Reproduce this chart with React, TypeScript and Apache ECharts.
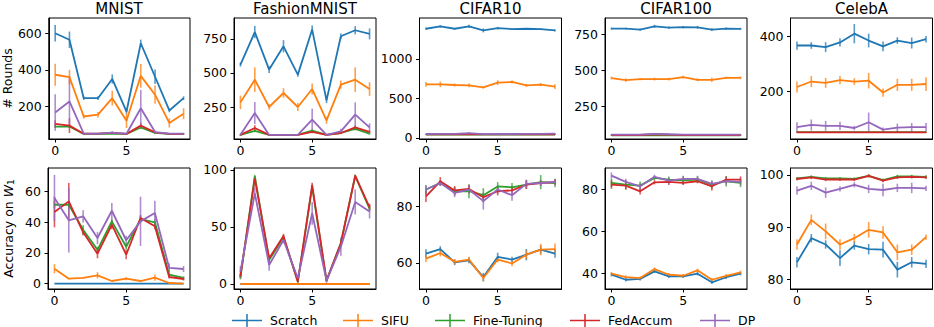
import React, { useEffect, useRef } from "react";
import * as echarts from "echarts";

const seriesNames = ["Scratch", "SIFU", "Fine-Tuning", "FedAccum", "DP"];
const seriesColors = ["#1f77b4", "#ff7f0e", "#2ca02c", "#d62728", "#9467bd"];
const datasetTitles = ["MNIST", "FashionMNIST", "CIFAR10", "CIFAR100", "CelebA"];
const xValues = [0, 1, 2, 3, 4, 5, 6, 7, 8, 9];
const xTicks = [0, 5];

// ---------- # Rounds (top row) ----------
const roundsMNIST = [
  [600, 564, 245, 245, 350, 172, 545, 362, 178, 245],
  [373, 360, 145, 155, 245, 122, 367, 264, 110, 160],
  [90, 90, 50, 50, 52, 50, 85, 55, 50, 50],
  [105, 95, 51, 51, 55, 50, 95, 58, 50, 50],
  [167, 227, 51, 51, 57, 51, 190, 60, 51, 51],
];
const roundsMNISTErr = [
  [45, 45, 10, 10, 25, 12, 20, 40, 10, 10],
  [60, 40, 12, 15, 40, 40, 65, 50, 25, 30],
  [8, 8, 3, 3, 3, 3, 8, 3, 3, 3],
  [20, 40, 3, 3, 3, 3, 15, 3, 3, 3],
  [100, 140, 3, 3, 8, 3, 100, 8, 3, 3],
];
const roundsFashion = [
  [561, 801, 525, 696, 488, 819, 299, 770, 814, 787],
  [284, 451, 250, 353, 250, 382, 152, 414, 451, 382],
  [45, 75, 45, 45, 45, 76, 45, 59, 90, 55],
  [45, 96, 45, 45, 45, 67, 45, 59, 100, 67],
  [47, 206, 45, 45, 45, 157, 45, 71, 194, 100],
];
const roundsFashionErr = [
  [15, 45, 25, 45, 15, 30, 20, 20, 30, 40],
  [50, 90, 20, 35, 30, 40, 25, 30, 90, 50],
  [5, 10, 3, 3, 3, 10, 3, 5, 12, 8],
  [5, 20, 3, 3, 3, 10, 3, 5, 15, 10],
  [5, 80, 3, 3, 3, 80, 3, 20, 90, 30],
];
const roundsCifar10 = [
  [1381, 1411, 1381, 1411, 1360, 1390, 1377, 1381, 1377, 1360],
  [678, 678, 670, 665, 640, 700, 708, 665, 674, 648],
  [42, 42, 42, 42, 42, 42, 42, 42, 42, 42],
  [45, 45, 45, 48, 45, 45, 45, 45, 45, 45],
  [50, 52, 52, 60, 48, 50, 50, 52, 52, 54],
];
const roundsCifar10Err = [
  [15, 15, 10, 20, 25, 15, 10, 10, 10, 15],
  [30, 35, 20, 25, 15, 30, 20, 20, 20, 30],
  [3, 3, 3, 3, 3, 3, 3, 3, 3, 3],
  [4, 4, 4, 6, 4, 4, 4, 4, 4, 4],
  [8, 8, 8, 12, 6, 8, 8, 8, 8, 8],
];
const roundsCifar100 = [
  [792, 792, 785, 808, 799, 803, 801, 785, 792, 790],
  [447, 433, 440, 440, 440, 454, 435, 435, 449, 449],
  [48, 48, 48, 50, 48, 48, 48, 48, 48, 48],
  [50, 50, 50, 55, 52, 50, 50, 50, 50, 50],
  [53, 52, 52, 58, 55, 52, 52, 52, 52, 52],
];
const roundsCifar100Err = [
  [8, 6, 8, 10, 8, 8, 10, 10, 8, 8],
  [10, 12, 8, 10, 10, 10, 10, 15, 8, 10],
  [2, 2, 2, 3, 2, 2, 2, 2, 2, 2],
  [3, 3, 3, 5, 3, 3, 3, 3, 3, 3],
  [4, 4, 4, 6, 4, 4, 4, 4, 4, 4],
];
const roundsCelebA = [
  [367, 367, 361, 378, 410, 385, 364, 385, 376, 390],
  [216, 236, 231, 241, 236, 239, 196, 224, 224, 227],
  [52, 52, 52, 52, 52, 52, 52, 52, 52, 52],
  [51, 51, 51, 51, 51, 51, 51, 51, 51, 51],
  [70, 78, 75, 75, 67, 88, 61, 68, 70, 70],
];
const roundsCelebAErr = [
  [15, 12, 18, 15, 35, 25, 18, 12, 20, 12],
  [20, 20, 18, 15, 12, 28, 15, 22, 22, 25],
  [2, 2, 2, 2, 2, 2, 2, 2, 2, 2],
  [2, 2, 2, 2, 2, 2, 2, 2, 2, 2],
  [18, 20, 18, 15, 8, 35, 8, 15, 15, 15],
];

// ---------- Accuracy on W1 (bottom row) ----------
const accMNIST = [
  [0, 0, 0, 0, 0, 0, 0, 0, 0, 0],
  [9.7, 3.2, 3.7, 5.4, 1.7, 3.2, 1.7, 3.9, 0.4, 0],
  [51.3, 51.3, 35, 22, 40.5, 24, 42, 39.9, 5.8, 3.7],
  [46.6, 53.5, 33.4, 19.5, 38.3, 18.8, 42.7, 37.3, 4.3, 3.0],
  [55.7, 41.2, 43.8, 29.7, 47.4, 28.2, 40.5, 45.9, 10.2, 9.5],
];
const accMNISTErr = [
  [0, 0, 0, 0, 0, 0, 0, 0, 0, 0],
  [3, 0.5, 0.5, 2, 0.5, 1, 0.5, 2, 0.3, 0],
  [2, 2, 3, 2, 2, 2, 2, 2, 1, 1],
  [10, 12, 2, 3, 3, 3, 2, 2, 1, 1],
  [15, 21, 4, 4, 5, 3, 16, 8, 3, 2],
];
const accFashion = [
  [0, 0, 0, 0, 0, 0, 0, 0, 0, 0],
  [0, 0, 0, 0, 0, 0, 0, 0, 0, 0],
  [6, 94.7, 21, 41, 2, 85, 3, 36, 94.7, 66],
  [7, 92.7, 22.5, 42, 2, 86.8, 3, 35.7, 95, 67.3],
  [10.8, 79.5, 16.7, 38.6, 5, 62, 3, 32.7, 72, 63.5],
];
const accFashionErr = [
  [0, 0, 0, 0, 0, 0, 0, 0, 0, 0],
  [0, 0, 0, 0, 0, 0, 0, 0, 0, 0],
  [2, 1, 2, 2, 1, 2, 1, 2, 1, 2],
  [2, 1, 3, 2, 1, 2, 1, 2, 1, 3],
  [5, 5, 5, 3, 2, 10, 2, 8, 11, 6],
];
const accCifar10 = [
  [63.3, 64.9, 60.2, 60.9, 55, 62.1, 61.2, 62.9, 64.7, 63.3],
  [61.5, 63.5, 60.4, 61.2, 54.7, 61.2, 59.8, 62.9, 64.7, 64.9],
  [85.9, 88.2, 85.3, 85.3, 83.9, 87, 86.7, 87.6, 88.5, 88.2],
  [83.5, 88.8, 85.6, 86.1, 83.2, 85.3, 85.6, 87.6, 88.2, 88.5],
  [85.9, 88.2, 84.7, 85.9, 81.8, 85.9, 83.9, 87.9, 88.2, 88.5],
];
const accCifar10Err = [
  [1.5, 1, 1, 1, 1.5, 1.5, 1, 2, 1.5, 1.5],
  [1.2, 1.2, 1, 1, 1.2, 1, 1, 1.5, 2, 2],
  [1.5, 1, 1.5, 2.5, 2.5, 1.5, 1.5, 1.5, 2.5, 1.5],
  [2, 1.5, 1.5, 1.5, 1.5, 1.5, 1.5, 1.5, 1, 1],
  [1.5, 1, 1.5, 1.5, 3, 1.5, 2, 1.5, 1, 1],
];
const accCifar100 = [
  [39.5, 37.1, 37.5, 41.1, 38.7, 38.7, 40, 35.9, 38.3, 40],
  [40, 38.4, 37.9, 42.2, 39.5, 39, 41.6, 37.1, 39, 40.6],
  [83.2, 82.4, 81.9, 85.6, 84.8, 84.4, 84.8, 82.4, 84, 83.2],
  [82.4, 81.9, 79.2, 83.5, 83.7, 83.2, 84, 81.6, 84.8, 84.8],
  [86.7, 83.7, 81.6, 86.1, 84.3, 85.1, 85.1, 82.7, 84, 83.7],
];
const accCifar100Err = [
  [0.8, 0.8, 0.8, 0.8, 0.8, 0.8, 0.8, 0.8, 0.8, 0.8],
  [0.8, 0.8, 0.8, 0.8, 0.8, 0.8, 0.8, 0.8, 0.8, 0.8],
  [2, 2, 2, 1, 1.5, 2, 1.5, 2, 2.5, 2],
  [2, 2, 1.5, 1, 1.5, 1, 1, 2, 1.5, 1.5],
  [1.5, 1.5, 1.5, 1, 1.5, 1.5, 1.5, 1.5, 1.5, 1.5],
];
const accCelebA = [
  [83.3, 87.9, 86.7, 84.1, 86.5, 85.8, 85.7, 81.9, 83.3, 83],
  [86.7, 91.4, 89.2, 86.7, 87.9, 89.5, 89, 85.2, 85.7, 88.1],
  [99.3, 99.6, 99.3, 99.3, 99.2, 99.8, 99, 99.7, 99.7, 99.6],
  [99.2, 99.5, 99.1, 99.1, 99.1, 99.8, 98.9, 99.5, 99.6, 99.5],
  [97, 97.9, 96.6, 97.3, 98.1, 97.3, 97.1, 97.5, 97.5, 97.4],
];
const accCelebAErr = [
  [1, 0.8, 0.8, 1.5, 0.8, 1, 1.5, 1.5, 1, 0.8],
  [1, 1, 1.5, 1, 0.8, 1.5, 1.2, 1.5, 1, 0.5],
  [0.3, 0.3, 0.3, 0.3, 0.3, 0.3, 0.3, 0.3, 0.3, 0.3],
  [0.3, 0.3, 0.3, 0.3, 0.3, 0.3, 0.3, 0.3, 0.3, 0.3],
  [0.8, 0.8, 1, 0.5, 0.5, 0.8, 1.2, 0.8, 1, 0.5],
];

const roundsTicks = [[200, 400, 600], [250, 500, 750], [0, 500, 1000], [250, 500, 750], [200, 400]];
const accTicks = [[0, 20, 40, 60], [0, 50, 100], [60, 80], [40, 60, 80], [80, 90, 100]];
const roundsLimits = [[22, 683], [15, 904], [-13, 1517], [22, 866], [27, 467]];
const accLimits = [[-3.5, 75.2], [-4.4, 101.75], [50.8, 93.5], [32.7, 90.3], [78.2, 101.3]];

const roundsMeans = [roundsMNIST, roundsFashion, roundsCifar10, roundsCifar100, roundsCelebA];
const roundsErrs = [roundsMNISTErr, roundsFashionErr, roundsCifar10Err, roundsCifar100Err, roundsCelebAErr];
const accMeans = [accMNIST, accFashion, accCifar10, accCifar100, accCelebA];
const accErrs = [accMNISTErr, accFashionErr, accCifar10Err, accCifar100Err, accCelebAErr];

const FONT = "DejaVu Sans";
const colLefts = [48, 234, 419.5, 605, 790.5];
const gridW = 142;
const rowTops = [18, 168];
const gridH = 121;
const legendLefts = [232, 343, 435, 570, 700];

function buildOption() {
  const grids: any[] = [];
  const xAxes: any[] = [];
  const yAxes: any[] = [];
  const series: any[] = [];
  const titles: any[] = [];

  for (let row = 0; row < 2; row++) {
    for (let col = 0; col < 5; col++) {
      const idx = row * 5 + col;
      grids.push({
        left: colLefts[col],
        top: rowTops[row],
        width: gridW,
        height: gridH,
        show: true,
        borderColor: "#000",
        borderWidth: 1,
        backgroundColor: "transparent",
        containLabel: false,
      });
      xAxes.push({
        type: "value",
        gridIndex: idx,
        min: -0.45,
        max: 9.45,
        axisLine: { show: true, onZero: false, lineStyle: { color: "#000", width: 1 } },
        axisTick: { show: true, length: 3.5, lineStyle: { color: "#000", width: 1 }, customValues: xTicks },
        axisLabel: {
          show: true,
          customValues: xTicks,
          margin: 5,
          fontSize: 12.5,
          fontFamily: FONT,
          color: "#000",
          formatter: (v: number) => String(v),
        },
        splitLine: { show: false },
      });
      const ticks = row === 0 ? roundsTicks[col] : accTicks[col];
      const lim = row === 0 ? roundsLimits[col] : accLimits[col];
      const yAxis: any = {
        type: "value",
        gridIndex: idx,
        min: lim[0],
        max: lim[1],
        axisLine: { show: true, onZero: false, lineStyle: { color: "#000", width: 1 } },
        axisTick: { show: true, length: 3.5, lineStyle: { color: "#000", width: 1 }, customValues: ticks },
        axisLabel: {
          show: true,
          customValues: ticks,
          margin: 7,
          fontSize: 12.5,
          fontFamily: FONT,
          color: "#000",
          formatter: (v: number) => String(v),
        },
        splitLine: { show: false },
      };
      if (col === 0) {
        yAxis.nameLocation = "middle";
        yAxis.nameGap = 33;
        yAxis.nameRotate = 90;
        if (row === 0) {
          yAxis.name = "# Rounds";
          yAxis.nameTextStyle = { fontSize: 12.5, fontFamily: FONT, color: "#000" };
        } else {
          yAxis.name = "Accuracy on {i|W}{s|1}";
          yAxis.nameTextStyle = {
            fontSize: 12.5,
            fontFamily: FONT,
            color: "#000",
            rich: {
              i: { fontSize: 12.5, fontFamily: FONT, fontStyle: "italic", color: "#000" },
              s: { fontSize: 9, fontFamily: FONT, color: "#000", verticalAlign: "bottom" },
            },
          };
        }
      }
      yAxes.push(yAxis);

      if (row === 0) {
        titles.push({
          text: datasetTitles[col],
          left: colLefts[col] + gridW / 2,
          top: 1,
          textAlign: "center",
          padding: 0,
          textStyle: { fontSize: 15, fontWeight: "normal", fontFamily: FONT, color: "#000" },
        });
      }

      const means = row === 0 ? roundsMeans[col] : accMeans[col];
      const errs = row === 0 ? roundsErrs[col] : accErrs[col];
      for (let s = 0; s < seriesNames.length; s++) {
        const color = seriesColors[s];
        series.push({
          type: "line",
          name: seriesNames[s],
          xAxisIndex: idx,
          yAxisIndex: idx,
          data: xValues.map((x, j) => [x, means[s][j]]),
          showSymbol: false,
          symbol: "none",
          lineStyle: { color, width: 1.8 },
          itemStyle: { color },
          silent: true,
        });
        series.push({
          type: "custom",
          name: seriesNames[s],
          xAxisIndex: idx,
          yAxisIndex: idx,
          data: xValues.map((x, j) => [x, means[s][j], errs[s][j]]),
          encode: { x: 0, y: 1 },
          itemStyle: { color },
          silent: true,
          renderItem: (params: any, api: any) => {
            const x = api.value(0);
            const y = api.value(1);
            const e = api.value(2);
            if (!e) return null;
            const a = api.coord([x, y - e]);
            const b = api.coord([x, y + e]);
            return {
              type: "line",
              shape: { x1: a[0], y1: a[1], x2: b[0], y2: b[1] },
              style: { stroke: color, lineWidth: 1.6, opacity: 0.75 },
            };
          },
        });
      }
    }
  }

  const crossIcon = "path://M0,5.75h30v1.5h-30z M14.25,0h1.5v13h-1.5z";

  const legends = seriesNames.map((n, i) => ({
    left: legendLefts[i],
    top: 314,
    itemWidth: 30,
    itemHeight: 13,
    padding: 0,
    selectedMode: false,
    textStyle: { fontSize: 12.5, fontFamily: FONT, color: "#000", padding: [0, 0, 0, 3] },
    data: [{ name: n, icon: crossIcon, itemStyle: { color: seriesColors[i] } }],
  }));

  return {
    animation: false,
    backgroundColor: "#fff",
    title: titles,
    grid: grids,
    xAxis: xAxes,
    yAxis: yAxes,
    series,
    legend: legends,
  };
}

export default function App() {
  const ref = useRef<HTMLDivElement>(null);
  useEffect(() => {
    if (!ref.current) return;
    const chart = echarts.init(ref.current, null, { renderer: "svg" });
    chart.setOption(buildOption() as any);
    return () => chart.dispose();
  }, []);
  return (
    <div
      ref={ref}
      style={{ position: "absolute", left: 0, top: 0, width: 934, height: 327, background: "#fff" }}
    />
  );
}
